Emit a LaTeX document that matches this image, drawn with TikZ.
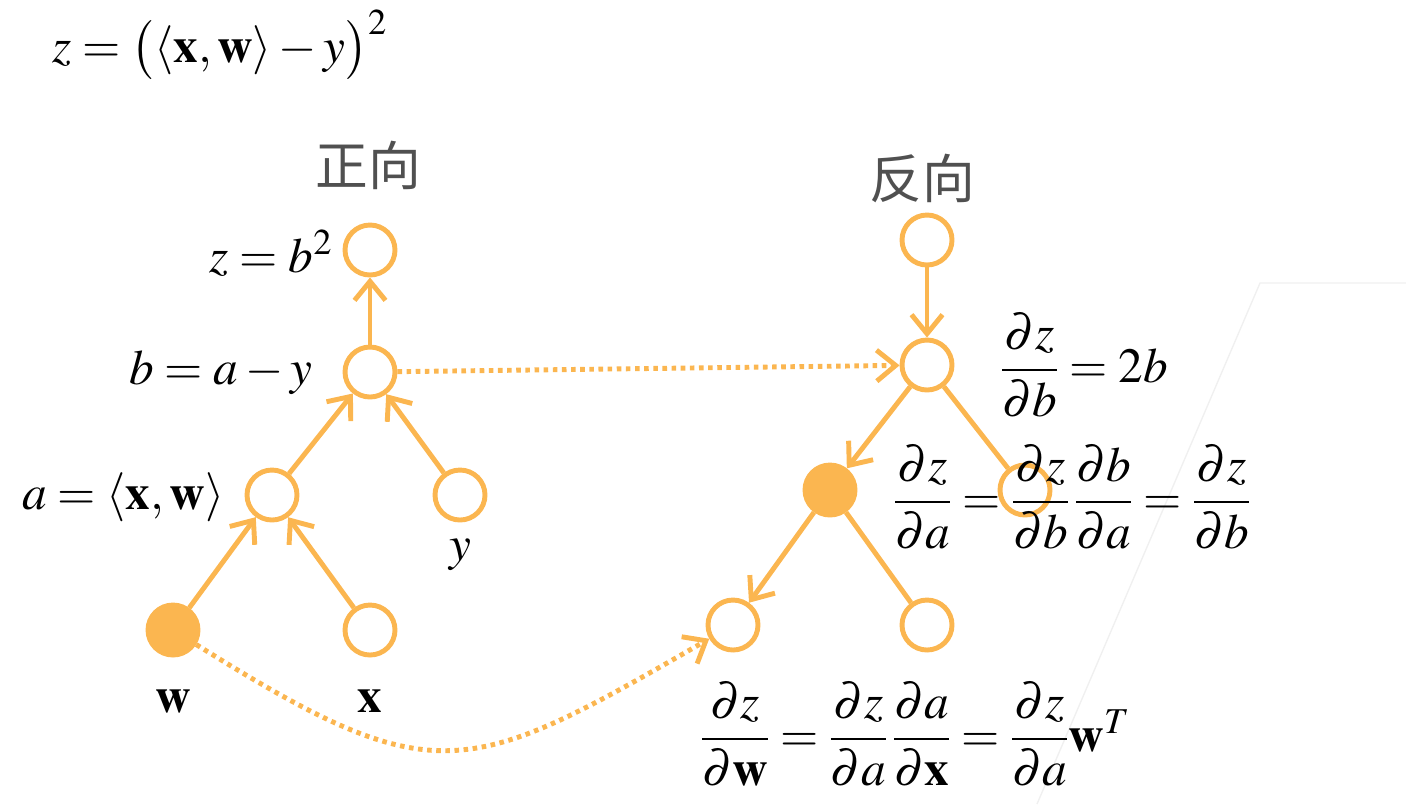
\documentclass[tikz,border=0pt]{standalone}
\usepackage{amsmath}
\usepackage{mathptmx}
\usepackage[no-math]{fontspec}
\setmainfont{Liberation Serif}
\newfontfamily\cjk{Noto Sans CJK SC}
\usetikzlibrary{positioning,arrows.meta}
\definecolor{orng}{RGB}{251,182,80}
\definecolor{ttlgray}{RGB}{80,80,80}
\setlength{\nulldelimiterspace}{0.4pt}

\begin{document}
\begin{tikzpicture}[
  nd/.style={circle, draw=orng, line width=1.4pt, minimum size=0.50cm,
             inner sep=0pt},
  full/.style={nd, fill=orng},
  arr/.style={-{Straight Barb[length=1.9mm,width=3.1mm]}, draw=orng,
              line width=1.4pt},
  dotarr/.style={arr, dash pattern=on 1.3pt off 1.3pt},
  lne/.style={draw=orng, line width=1.4pt},
  lbl/.style={font=\fontsize{14}{17}\selectfont, inner sep=0pt},
  ttl/.style={font=\fontsize{15}{18}\selectfont\cjk, text=ttlgray},
]
\useasboundingbox (0,0) rectangle (14.06,-8.04);

%% faint slide edge
\draw[black!6, line width=0.4pt] (14.06,-2.83) -- (12.60,-2.83) -- (10.37,-8.04);

%% Formula and titles
\node[lbl, anchor=base west] (eq)  at (0.52,-0.62)
  {$z = \bigl(\langle \mathbf{x}, \mathbf{w}\rangle - y\bigr)^2$};
\node[ttl] (fwd) at (3.68,-1.65) {正向};
\node[ttl] (bwd) at (9.22,-1.78) {反向};

%% Forward nodes
\node[nd]   (z) at (3.70,-2.50) {};
\node[nd]   (b) at (3.70,-3.72) {};
\node[nd]   (a) at (2.72,-4.95) {};
\node[nd]   (y) at (4.60,-4.95) {};
\node[full] (w) at (1.73,-6.30) {};
\node[nd]   (x) at (3.70,-6.30) {};

%% Backward nodes
\node[nd]   (rz) at (9.27,-2.40) {};
\node[nd]   (rb) at (9.27,-3.65) {};
\node[full] (ra) at (8.30,-4.90) {};
\node[nd]   (ry) at (10.25,-4.90) {};
\node[nd]   (rw) at (7.33,-6.25) {};
\node[nd]   (rx) at (9.27,-6.25) {};

%% Forward labels
\node[lbl, anchor=east] (zl) at (3.34,-2.53) {$z = b^2$};
\node[lbl, anchor=east] (bl) at (3.13,-3.73) {$b = a - y$};
\node[lbl, anchor=east] (al) at (2.25,-4.97)
  {$a = \langle \mathbf{x}, \mathbf{w}\rangle$};
\node[lbl, anchor=base] (yl) at (4.60,-5.60) {$y$};
\node[lbl, anchor=base] (wl) at (1.73,-7.12) {$\mathbf{w}$};
\node[lbl, anchor=base] (xl) at (3.70,-7.12) {$\mathbf{x}$};

%% Backward labels
\node[lbl, anchor=west] (gb) at (10.00,-3.65)
  {$\dfrac{\partial z}{\partial b} = 2b$};
\node[lbl, anchor=west] (ga) at (8.93,-4.97)
  {$\dfrac{\partial z}{\partial a} = \dfrac{\partial z}{\partial b}\,
    \dfrac{\partial b}{\partial a} = \dfrac{\partial z}{\partial b}$};
\node[lbl, anchor=west] (gw) at (7.00,-7.34)
  {$\dfrac{\partial z}{\partial \mathbf{w}} = \dfrac{\partial z}{\partial a}\,
    \dfrac{\partial a}{\partial \mathbf{x}} = \dfrac{\partial z}{\partial a}
    \mathbf{w}^T$};

%% Forward edges
\draw[arr] (b) -- (z);
\draw[arr] (a) -- (b);
\draw[arr] (y) -- (b);
\draw[arr] (w) -- (a);
\draw[arr] (x) -- (a);

% forward value carried over
\draw[dotarr] (b) -- (rb);
\draw[dotarr] (w) to[out=-32, in=-150, looseness=1.4] (rw);

%% Backward edges
\draw[arr] (rz) -- (rb);
\draw[arr] (rb) -- (ra);
\draw[lne] (rb) -- (ry);
\draw[arr] (ra) -- (rw);
\draw[lne] (ra) -- (rx);

\end{tikzpicture}
\end{document}
